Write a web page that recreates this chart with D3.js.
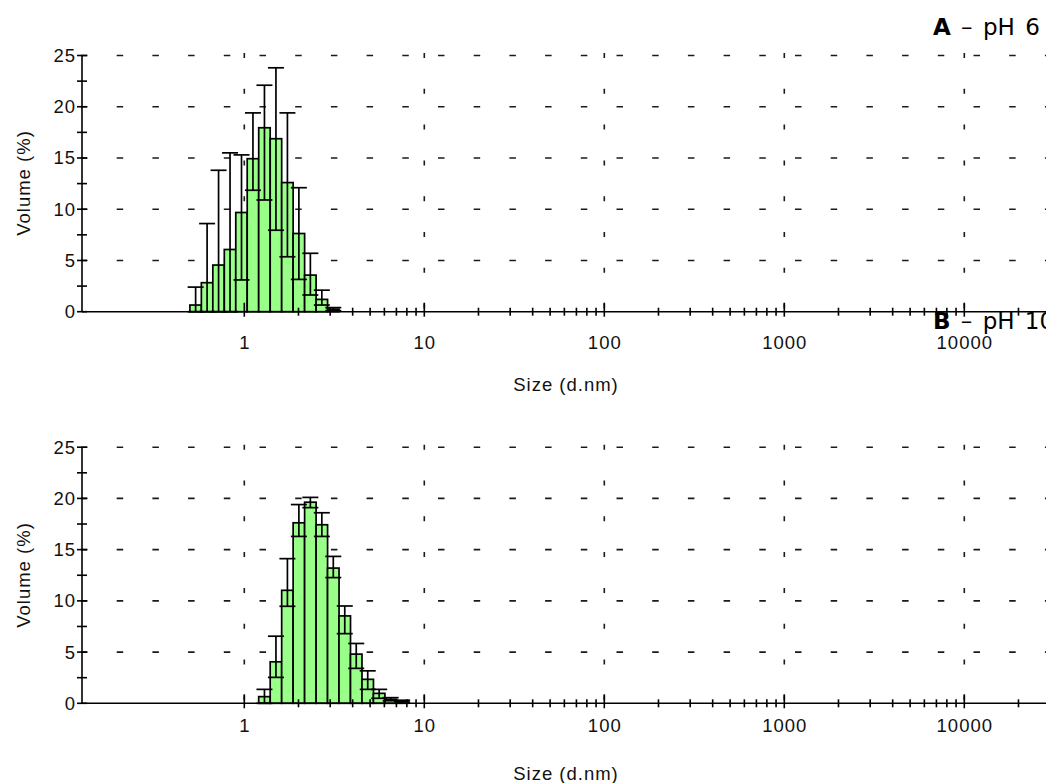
<!DOCTYPE html>
<html>
<head>
<meta charset="utf-8">
<script src="https://cdn.jsdelivr.net/npm/d3@7"></script>
<style>
  body { margin: 0; background: #fff; }
  svg { display: block; }
</style>
</head>
<body>
<script>
// Size classes (d.nm) with mean volume (%) and the error-bar limits for each run
const sizesA  = [0.5365, 0.6213, 0.7195, 0.8332, 0.9649, 1.117, 1.294, 1.499, 1.736, 2.010, 2.328, 2.696, 3.122];
const volumeA = [0.65, 2.83, 4.55, 6.07, 9.68, 14.93, 17.95, 16.88, 12.6, 7.63, 3.57, 1.2, 0.25];
const upperA  = [2.4, 8.6, 13.8, 15.5, 15.3, 19.4, 22.1, 23.8, 19.4, 12.1, 5.7, 2.1, 0.4];
const lowerA  = [0, 0, 0, 0, 3.1, 11.85, 10.9, 7.95, 5.36, 3.15, 1.63, 0.65, 0.1];

const sizesB  = [1.294, 1.499, 1.736, 2.010, 2.328, 2.696, 3.122, 3.615, 4.187, 4.849, 5.615, 6.503, 7.531];
const volumeB = [0.65, 4.05, 11.03, 17.62, 19.63, 17.43, 13.2, 8.53, 4.8, 2.34, 0.97, 0.39, 0.22];
const upperB  = [1.36, 6.55, 14.12, 19.4, 20.1, 18.6, 14.34, 9.5, 5.84, 3.17, 1.36, 0.55, 0.3];
const lowerB  = [0, 2.53, 9.47, 16.29, 19.1, 16.29, 12.27, 6.8, 3.41, 1.36, 0.49, 0.25, 0.12];

// Axis ticks and labels
const xMajorTicks = [1, 10, 100, 1000, 10000];
const xMinorMultipliers = [2, 3, 4, 5, 6, 7, 8, 9];
const yLabelTicks = [0, 5, 10, 15, 20, 25];
const yGridTicks = [5, 10, 15, 20, 25];
const yTickStep = 2.5;
const yMax = 25;

const panelLetters = ["A", "B"];
const panelConditions = ["pH 6", "pH 10"];
const xAxisTitle = "Size (d.nm)";
const yAxisTitle = "Volume (%)";

const W = 1046, H = 783;
const plotLeft = 82, plotRight = 1110;

const svg = d3.select("body").append("svg")
  .attr("width", W).attr("height", H)
  .attr("viewBox", `0 0 ${W} ${H}`);

svg.append("rect").attr("width", W).attr("height", H).attr("fill", "#fff");

const x = d3.scaleLog().domain([1, 10000]).range([244.3, 964.3]);

const labelFont = "'Liberation Sans', Arial, sans-serif";
const titleFont = "'DejaVu Sans', Verdana, sans-serif";

const panels = [
  { sizes: sizesA, volume: volumeA, upper: upperA, lower: lowerA,
    y0: 311.7, yTop: 55.5, tickLabelY: 348.5, xTitleY: 390.5, yTitleCY: 183, titleY: 35.3 },
  { sizes: sizesB, volume: volumeB, upper: upperB, lower: lowerB,
    y0: 703.3, yTop: 447.2, tickLabelY: 732, xTitleY: 780, yTitleCY: 575, titleY: 329 }
];

panels.forEach((p, i) => {
  const g = svg.append("g");
  const y = d3.scaleLinear().domain([0, yMax]).range([p.y0, p.yTop]);

  // dashed grid
  const grid = g.append("g").attr("stroke", "#1a1a1a").attr("stroke-width", 1.6);
  grid.selectAll("line.h").data(yGridTicks).join("line")
    .attr("x1", plotLeft - 1).attr("x2", plotRight)
    .attr("y1", d => y(d)).attr("y2", d => y(d))
    .attr("stroke-dasharray", "6.5 29.2");
  grid.selectAll("line.v").data(xMajorTicks).join("line")
    .attr("x1", d => x(d)).attr("x2", d => x(d))
    .attr("y1", y(yMax) - 2.5).attr("y2", p.y0)
    .attr("stroke-dasharray", "5 30.8");

  // histogram bars, one per size class
  const ratio = p.sizes[1] / p.sizes[0];
  const half = Math.sqrt(ratio);
  const bins = p.sizes.map((s, k) => ({ s, v: p.volume[k], hi: p.upper[k], lo: p.lower[k] }));

  g.append("g").selectAll("rect").data(bins).join("rect")
    .attr("x", d => x(d.s / half))
    .attr("width", d => x(d.s * half) - x(d.s / half))
    .attr("y", d => y(d.v))
    .attr("height", d => y(0) - y(d.v))
    .attr("fill", "#99ff88")
    .attr("stroke", "#000")
    .attr("stroke-width", 1.7);

  // error bars
  const eb = g.append("g").attr("stroke", "#000").attr("stroke-width", 1.7);
  const capHalf = 8;
  eb.selectAll("line.stem").data(bins).join("line")
    .attr("x1", d => x(d.s)).attr("x2", d => x(d.s))
    .attr("y1", d => y(Math.max(0, d.lo))).attr("y2", d => y(d.hi));
  eb.selectAll("line.capHi").data(bins).join("line")
    .attr("x1", d => x(d.s) - capHalf).attr("x2", d => x(d.s) + capHalf)
    .attr("y1", d => y(d.hi)).attr("y2", d => y(d.hi));
  eb.selectAll("line.capLo").data(bins).join("line")
    .attr("x1", d => x(d.s) - capHalf).attr("x2", d => x(d.s) + capHalf)
    .attr("y1", d => y(Math.max(0, d.lo))).attr("y2", d => y(Math.max(0, d.lo)));

  // axes
  const ax = g.append("g").attr("stroke", "#000").attr("stroke-width", 1.6);
  ax.append("line").attr("x1", plotLeft).attr("x2", plotLeft)
    .attr("y1", y(0)).attr("y2", y(yMax));
  ax.append("line").attr("x1", plotLeft).attr("x2", plotRight)
    .attr("y1", y(0)).attr("y2", y(0));

  const yTicks = d3.range(0, yMax + 0.001, yTickStep);
  ax.selectAll("line.yt").data(yTicks).join("line")
    .attr("x1", plotLeft - 5).attr("x2", plotLeft + 5)
    .attr("y1", d => y(d)).attr("y2", d => y(d));

  const minor = [];
  xMajorTicks.forEach(dec => xMinorMultipliers.forEach(m => minor.push(dec * m)));
  ax.selectAll("line.xm").data(minor.filter(v => x(v) < plotRight)).join("line")
    .attr("x1", d => x(d)).attr("x2", d => x(d))
    .attr("y1", y(0) - 4).attr("y2", y(0) + 4);
  ax.selectAll("line.xM").data(xMajorTicks).join("line")
    .attr("x1", d => x(d)).attr("x2", d => x(d))
    .attr("y1", y(0) - 9).attr("y2", y(0) + 5);

  // tick labels
  const txt = g.append("g").attr("font-family", labelFont).attr("font-size", 18.5)
    .attr("letter-spacing", 1).attr("fill", "#111");
  txt.selectAll("text.xl").data(xMajorTicks).join("text")
    .attr("x", d => x(d) + 0.5).attr("y", p.tickLabelY)
    .attr("text-anchor", "middle").text(d => d);
  txt.selectAll("text.yl").data(yLabelTicks).join("text")
    .attr("x", 76).attr("y", d => y(d)).attr("dy", "0.35em")
    .attr("text-anchor", "end").text(d => d);

  // axis titles
  txt.append("text").attr("x", 566).attr("y", p.xTitleY)
    .attr("text-anchor", "middle").text(xAxisTitle);
  txt.append("text")
    .attr("transform", `translate(30,${p.yTitleCY}) rotate(-90)`)
    .attr("text-anchor", "middle").text(yAxisTitle);

  // panel title
  const t = svg.append("text").attr("x", 933).attr("y", p.titleY)
    .attr("font-family", titleFont).attr("font-size", 23)
    .attr("word-spacing", 3).attr("fill", "#000");
  t.append("tspan").attr("font-weight", "bold").text(panelLetters[i]);
  t.append("tspan").text(" \u2013 " + panelConditions[i]);
});
</script>
</body>
</html>
